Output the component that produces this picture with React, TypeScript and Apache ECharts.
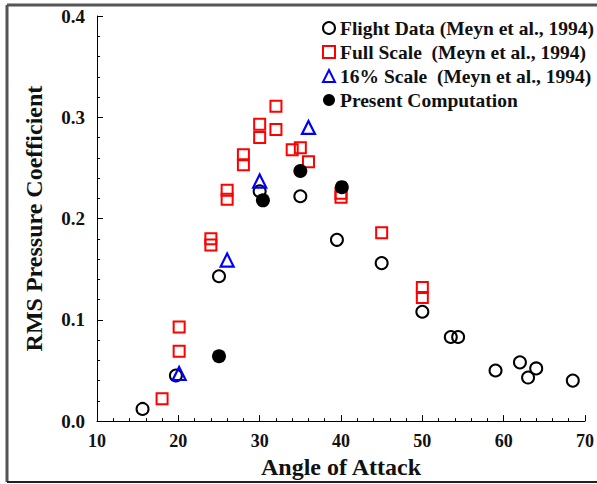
import React, { useEffect, useRef } from "react";
import * as echarts from "echarts";

// Angle of attack (deg) and RMS pressure coefficient for each data set
const flightAoA = [15.6, 19.7, 25.0, 30.0, 35.0, 39.5, 45.0, 50.0, 53.5, 54.4, 59.0, 62.0, 63.0, 64.0, 68.5];
const flightRms = [0.012, 0.045, 0.143, 0.227, 0.222, 0.179, 0.156, 0.108, 0.083, 0.083, 0.050, 0.058, 0.043, 0.052, 0.040];

const fullAoA = [18.0, 20.1, 20.1, 24.0, 24.0, 26.0, 26.0, 28.0, 28.0, 30.0, 30.0, 32.0, 32.0, 34.0, 35.0, 36.0, 40.0, 40.0, 45.0, 50.0, 50.0];
const fullRms = [0.022, 0.069, 0.093, 0.180, 0.174, 0.228, 0.219, 0.263, 0.253, 0.293, 0.280, 0.311, 0.288, 0.268, 0.270, 0.256, 0.225, 0.221, 0.186, 0.132, 0.122];

const scaleAoA = [20.1, 26.0, 30.0, 36.0];
const scaleRms = [0.047, 0.159, 0.237, 0.290];

const compAoA = [25.0, 30.4, 35.0, 40.1];
const compRms = [0.064, 0.218, 0.247, 0.231];

const seriesNames = [
  "Flight Data (Meyn et al., 1994)",
  "Full Scale  (Meyn et al., 1994)",
  "16% Scale  (Meyn et al., 1994)",
  "Present Computation",
];

const xTicks = { min: 10, max: 70, step: 10 };
const yTicks = { min: 0, max: 0.4, step: 0.1 };

const pair = (xs: number[], ys: number[]) => xs.map((x, i) => [x, ys[i]]);

const FONT = "'Liberation Serif', 'Times New Roman', serif";

export default function App() {
  const ref = useRef<HTMLDivElement>(null);

  useEffect(() => {
    document.body.style.margin = "0";
    if (!ref.current) return;
    const chart = echarts.init(ref.current, null, { renderer: "svg" });

    const hollow = (color: string, width: number) => ({
      color: "rgba(0,0,0,0)",
      borderColor: color,
      borderWidth: width,
      opacity: 1,
    });

    chart.setOption({
      animation: false,
      backgroundColor: "#fff",
      textStyle: { fontFamily: FONT },
      grid: { left: 97, top: 16, right: 5, bottom: 56, containLabel: false },
      legend: {
        orient: "vertical",
        left: 317,
        top: 13,
        itemWidth: 12,
        itemHeight: 12,
        itemGap: 4,
        selectedMode: false,
        data: seriesNames,
        textStyle: {
          fontFamily: FONT,
          fontWeight: "bold",
          fontSize: 19.5,
          color: "#111",
        },
      },
      xAxis: {
        type: "value",
        min: xTicks.min,
        max: xTicks.max,
        interval: xTicks.step,
        name: "Angle of Attack",
        nameLocation: "middle",
        nameGap: 32,
        nameTextStyle: { fontFamily: FONT, fontWeight: "bold", fontSize: 24, color: "#111" },
        axisLine: { show: true, onZero: false, lineStyle: { color: "#000", width: 1 } },
        axisTick: { show: true, inside: true, length: 6, lineStyle: { color: "#000" } },
        minorTick: { show: true, splitNumber: 5, length: 3, lineStyle: { color: "#000" } },
        splitLine: { show: false },
        axisLabel: { fontFamily: FONT, fontWeight: "bold", fontSize: 18, color: "#111", margin: 11 },
      },
      yAxis: {
        type: "value",
        min: yTicks.min,
        max: yTicks.max,
        interval: yTicks.step,
        name: "RMS Pressure Coefficient",
        nameLocation: "middle",
        nameGap: 51,
        nameTextStyle: { fontFamily: FONT, fontWeight: "bold", fontSize: 24, color: "#111" },
        axisLine: { show: true, onZero: false, lineStyle: { color: "#000", width: 1 } },
        axisTick: { show: true, inside: true, length: 6, lineStyle: { color: "#000" } },
        minorTick: { show: true, splitNumber: 5, length: 3, lineStyle: { color: "#000" } },
        splitLine: { show: false },
        axisLabel: {
          fontFamily: FONT,
          fontWeight: "bold",
          fontSize: 19,
          color: "#111",
          margin: 12,
          formatter: (v: number) => v.toFixed(1),
        },
      },
      graphic: [
        { type: "line", shape: { x1: 7, y1: 5, x2: 597, y2: 5 }, style: { stroke: "#555", lineWidth: 3 } },
        { type: "line", shape: { x1: 7, y1: 5, x2: 7, y2: 482 }, style: { stroke: "#555", lineWidth: 3 } },
        { type: "line", shape: { x1: 7, y1: 482, x2: 597, y2: 482 }, style: { stroke: "#222", lineWidth: 2 } },
      ],
      series: [
        {
          name: seriesNames[0],
          type: "scatter",
          symbol: "circle",
          symbolSize: 12,
          itemStyle: hollow("#000", 2),
          emphasis: { disabled: true },
          data: pair(flightAoA, flightRms),
        },
        {
          name: seriesNames[1],
          type: "scatter",
          symbol: "rect",
          symbolSize: 11,
          itemStyle: hollow("#ff0000", 2),
          emphasis: { disabled: true },
          data: pair(fullAoA, fullRms),
        },
        {
          name: seriesNames[2],
          type: "scatter",
          symbol: "triangle",
          symbolSize: 13,
          itemStyle: hollow("#0000ff", 2.2),
          emphasis: { disabled: true },
          data: pair(scaleAoA, scaleRms),
        },
        {
          name: seriesNames[3],
          type: "scatter",
          symbol: "circle",
          symbolSize: 14,
          itemStyle: { color: "#000", opacity: 1 },
          emphasis: { disabled: true },
          data: pair(compAoA, compRms),
        },
      ],
    });

    return () => chart.dispose();
  }, []);

  return <div ref={ref} style={{ width: 597, height: 484 }} />;
}
